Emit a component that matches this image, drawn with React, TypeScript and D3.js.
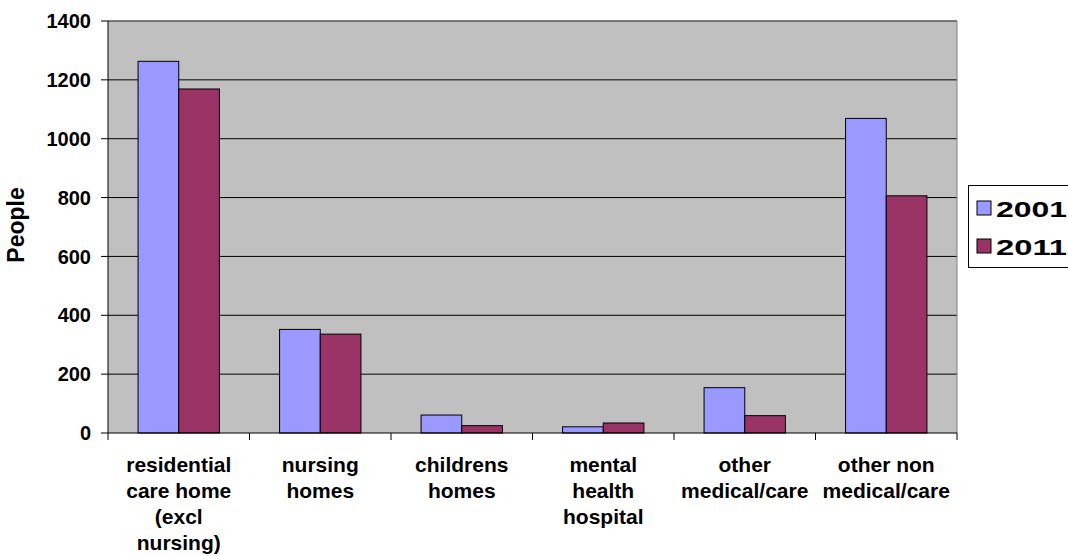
import React from "react";
import * as d3 from "d3";

const categories = [
  "residential care home (excl nursing)",
  "nursing homes",
  "childrens homes",
  "mental health hospital",
  "other medical/care",
  "other non medical/care",
];
const categoryLines = [
  ["residential", "care home", "(excl", "nursing)"],
  ["nursing", "homes"],
  ["childrens", "homes"],
  ["mental", "health", "hospital"],
  ["other", "medical/care"],
  ["other non", "medical/care"],
];
const seriesNames = ["2001", "2011"];
const values2001 = [1263, 352, 61, 21, 154, 1069];
const values2011 = [1169, 336, 25, 34, 59, 806];
const yTicks = [0, 200, 400, 600, 800, 1000, 1200, 1400];
const colors = ["#9999FF", "#993366"];

const W = 1068;
const H = 556;
const L = 108, R = 957, T = 21, B = 433;
const FONT = "Arial, 'Liberation Sans', sans-serif";

export default function App() {
  const x = d3.scaleBand<string>().domain(categories).range([L, R]).paddingInner(0.425).paddingOuter(0.2125);
  const xs = d3.scaleBand<string>().domain(seriesNames).range([0, x.bandwidth()]);
  const y = d3.scaleLinear().domain([0, 1400]).range([B, T]);
  const series = [values2001, values2011];
  const step = x.step();

  return (
    <svg width={W} height={H} style={{ position: "absolute", left: 0, top: 0, background: "#fff" }} fontFamily={FONT}>
      <rect x={L} y={T} width={R - L} height={B - T} fill="#C0C0C0" />
      {yTicks.filter((t) => t > 0).map((t) => (
        <line key={t} x1={L} x2={R} y1={y(t)} y2={y(t)} stroke="#000" strokeWidth={1} />
      ))}
      <line x1={L} x2={R} y1={T} y2={T} stroke="#808080" />
      <line x1={R} x2={R} y1={T} y2={B} stroke="#808080" />
      {series.map((vals, si) =>
        vals.map((v, i) => (
          <rect
            key={si + "-" + i}
            x={(x(categories[i]) as number) + (xs(seriesNames[si]) as number)}
            y={y(v)}
            width={xs.bandwidth()}
            height={B - y(v)}
            fill={colors[si]}
            stroke="#000"
            strokeWidth={1}
          />
        ))
      )}
      <line x1={L} x2={L} y1={T} y2={B} stroke="#000" />
      <line x1={L} x2={R} y1={B} y2={B} stroke="#000" />
      {yTicks.map((t) => (
        <g key={t}>
          <line x1={L - 7} x2={L} y1={y(t)} y2={y(t)} stroke="#000" />
          <text x={91} y={y(t)} dy="0.36em" textAnchor="end" fontSize={20} fontWeight="bold">
            {t}
          </text>
        </g>
      ))}
      {d3.range(categories.length + 1).map((i) => (
        <line key={i} x1={L + i * step} x2={L + i * step} y1={B} y2={B + 7} stroke="#000" />
      ))}
      {categoryLines.map((lines, i) => (
        <text key={i} textAnchor="middle" fontSize={21} fontWeight="bold">
          {lines.map((ln, j) => (
            <tspan key={j} x={(x(categories[i]) as number) + x.bandwidth() / 2} y={472 + j * 26}>
              {ln}
            </tspan>
          ))}
        </text>
      ))}
      <text transform="translate(24,225) rotate(-90)" textAnchor="middle" fontSize={23} fontWeight="bold">
        People
      </text>
      <rect x={968.5} y={185.5} width={120} height={82} fill="#fff" stroke="#000" />
      {seriesNames.map((s, i) => (
        <g key={s}>
          <rect x={977} y={201 + i * 38} width={14} height={14} fill={colors[i]} stroke="#000" />
          <text x={996} y={217 + i * 38} fontSize={22} fontWeight="bold" textLength={71} lengthAdjust="spacingAndGlyphs">
            {s}
          </text>
        </g>
      ))}
    </svg>
  );
}
